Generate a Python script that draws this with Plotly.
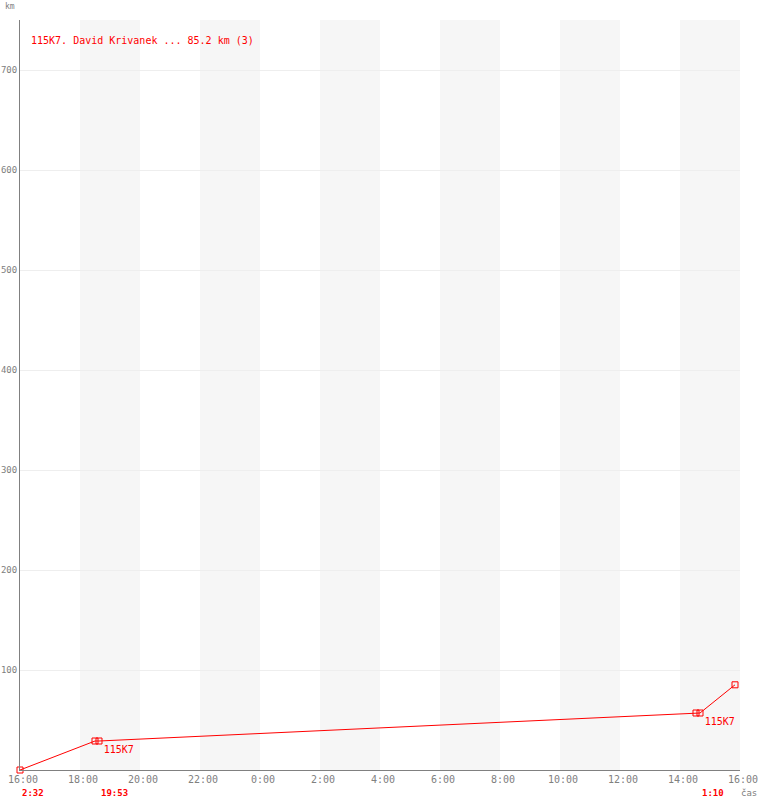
import plotly.graph_objects as go

# data
times = ["2024-01-01 16:00", "2024-01-01 18:30", "2024-01-01 18:38",
         "2024-01-02 14:32", "2024-01-02 14:40", "2024-01-02 15:50"]
dist_km = [0, 29, 29, 57, 57, 85.2]
point_labels = ["", "", "115K7", "", "115K7", ""]
bands = [("2024-01-01 18:00", "2024-01-01 20:00"), ("2024-01-01 22:00", "2024-01-02 00:00"),
         ("2024-01-02 02:00", "2024-01-02 04:00"), ("2024-01-02 06:00", "2024-01-02 08:00"),
         ("2024-01-02 10:00", "2024-01-02 12:00"), ("2024-01-02 14:00", "2024-01-02 16:00")]
dur_labels = [("2024-01-01 16:00", "2:32"), ("2024-01-01 18:38", "19:53"), ("2024-01-02 14:40", "1:10")]
title_text = "115K7. David Krivanek ... 85.2 km (3)"
y_ticks = [100, 200, 300, 400, 500, 600, 700]

RED = "#ff0000"
GREY = "#808080"
FONT = "DejaVu Sans Mono"

fig = go.Figure()
fig.add_trace(go.Scatter(
    x=times, y=dist_km, mode="lines+markers+text",
    line=dict(color=RED, width=1),
    marker=dict(symbol="square-open", size=6, color=RED, line=dict(width=1, color=RED)),
    text=point_labels, textposition="bottom right",
    textfont=dict(family=FONT, size=10, color=RED),
    hoverinfo="skip", showlegend=False, cliponaxis=False,
))

shapes = []
for x0, x1 in bands:
    shapes.append(dict(type="rect", xref="x", yref="paper", x0=x0, x1=x1, y0=0, y1=1,
                       fillcolor="#f6f6f6", line=dict(width=0), layer="below"))

annotations = [
    dict(text=title_text, xref="paper", yref="paper", x=0.0, y=0.973, xanchor="left", yanchor="middle",
         xshift=9, showarrow=False, font=dict(family=FONT, size=10, color=RED)),
    dict(text="km", xref="paper", yref="paper", x=0, y=1.0, xanchor="left", yanchor="bottom",
         xshift=-17, yshift=7, showarrow=False, font=dict(family=FONT, size=8, color=GREY)),
    dict(text="čas", xref="paper", yref="paper", x=1.0, y=0, xanchor="center", yanchor="top",
         xshift=9, yshift=-16, showarrow=False, font=dict(family=FONT, size=9, color=GREY)),
]
for t, s in dur_labels:
    annotations.append(dict(text="<b>" + s + "</b>", xref="x", yref="paper", x=t, y=0,
                            xanchor="left", yanchor="top", xshift=0, yshift=-16,
                            showarrow=False, font=dict(family=FONT, size=9, color=RED)))

fig.update_layout(
    width=760, height=800,
    margin=dict(l=20, r=20, t=20, b=30, autoexpand=False),
    paper_bgcolor="white", plot_bgcolor="white",
    shapes=shapes, annotations=annotations,
    xaxis=dict(type="date", range=["2024-01-01 16:00", "2024-01-02 16:00"], automargin=False,
               dtick=2 * 3600 * 1000, tick0="2024-01-01 16:00", tickformat="%-H:%M",
               showgrid=False, showline=True, linecolor=GREY, linewidth=1, ticklabelshift=3,
               ticks="", tickfont=dict(family=FONT, size=10, color=GREY), zeroline=False),
    yaxis=dict(range=[0, 750], tickvals=y_ticks, showgrid=True, gridcolor="#eeeeee", automargin=False,
               showline=True, linecolor=GREY, linewidth=1, ticks="", zeroline=False,
               ticklabelstandoff=0,
               tickfont=dict(family=FONT, size=9, color=GREY)),
)

fig.write_html("out.html", config={"displayModeBar": False},
               post_script="document.body.style.margin='0';document.body.style.overflow='hidden';")
